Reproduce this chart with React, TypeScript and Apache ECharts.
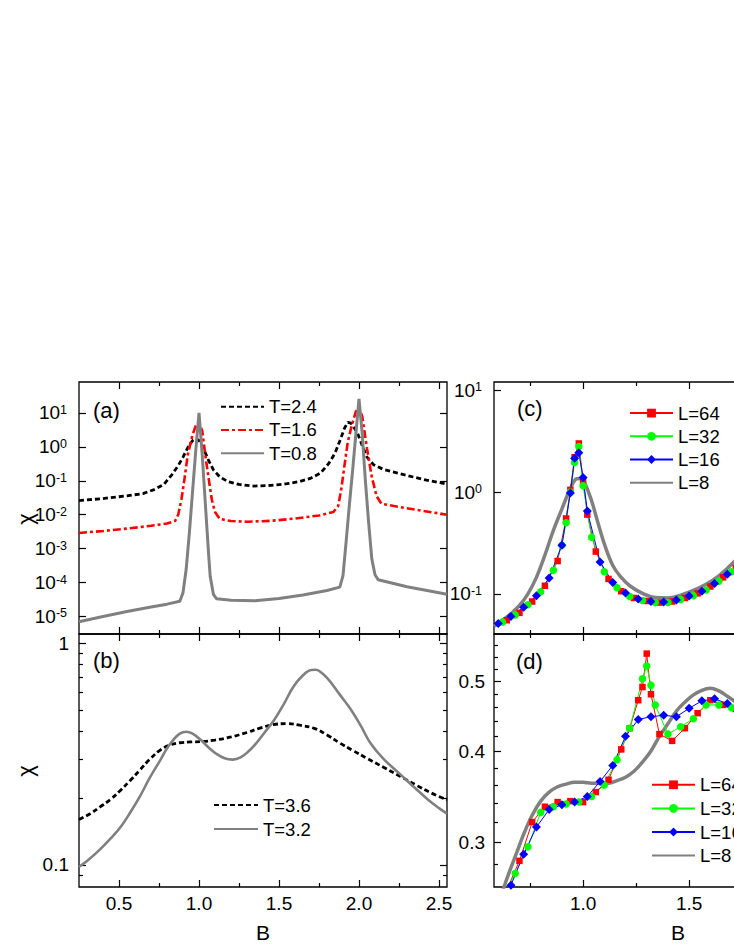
import React, { useEffect, useRef } from 'react';
import * as echarts from 'echarts';

const FONT = '"Liberation Sans", Arial, Helvetica, sans-serif';

// ---------- Panel (a): chi vs B (log), T = 2.4, 1.6, 0.8 ----------
const aT24: number[][] = [
  [0.25, 0.026], [0.4, 0.030], [0.55, 0.036], [0.65, 0.042], [0.72, 0.055], [0.78, 0.078],
  [0.83, 0.15], [0.87, 0.28], [0.9, 0.5], [0.93, 0.95], [0.96, 1.55], [0.98, 1.75], [1.0, 1.55],
  [1.03, 0.85], [1.06, 0.4], [1.09, 0.21], [1.13, 0.13], [1.18, 0.095], [1.25, 0.078], [1.34, 0.07],
  [1.45, 0.073], [1.55, 0.082], [1.63, 0.095], [1.7, 0.12], [1.76, 0.17], [1.81, 0.32], [1.85, 0.65],
  [1.88, 1.5], [1.91, 3.6], [1.93, 5.3], [1.95, 5.0], [1.97, 3.6], [1.99, 2.6], [2.02, 1.1],
  [2.05, 0.5], [2.09, 0.3], [2.15, 0.22], [2.26, 0.16], [2.4, 0.11], [2.55, 0.08]
];
const aT16: number[][] = [
  [0.25, 0.0029], [0.4, 0.0033], [0.55, 0.0039], [0.7, 0.0047], [0.8, 0.0055], [0.85, 0.0065],
  [0.87, 0.010], [0.89, 0.028], [0.91, 0.12], [0.93, 0.6], [0.96, 2.3], [0.98, 4.2], [1.0, 5.0],
  [1.02, 3.0], [1.04, 0.55], [1.06, 0.12], [1.08, 0.028], [1.1, 0.012], [1.13, 0.0075], [1.2, 0.0065],
  [1.3, 0.0062], [1.45, 0.0066], [1.6, 0.0077], [1.75, 0.0095], [1.84, 0.012], [1.87, 0.018],
  [1.89, 0.06], [1.91, 0.3], [1.93, 1.4], [1.95, 3.5], [1.98, 11], [2.0, 14], [2.02, 8], [2.05, 0.9],
  [2.08, 0.13], [2.11, 0.035], [2.14, 0.021], [2.25, 0.017], [2.4, 0.013], [2.55, 0.010]
];
const aT08: number[][] = [
  [0.25, 7.0e-6], [0.4, 1.0e-5], [0.55, 1.4e-5], [0.7, 1.9e-5], [0.8, 2.3e-5], [0.88, 2.8e-5],
  [0.9, 5e-5], [0.92, 2.5e-4], [0.94, 3e-3], [0.96, 0.05], [0.98, 0.8], [1.0, 10], [1.02, 0.6],
  [1.04, 0.02], [1.06, 7e-4], [1.07, 1.5e-4], [1.09, 4.5e-5], [1.11, 3.3e-5], [1.2, 3.0e-5],
  [1.35, 2.9e-5], [1.5, 3.4e-5], [1.65, 4.3e-5], [1.8, 5.8e-5], [1.88, 7.3e-5], [1.9, 1.6e-4],
  [1.92, 1.7e-3], [1.94, 0.02], [1.96, 0.2], [1.98, 2.3], [2.0, 26], [2.02, 2.5], [2.04, 0.1],
  [2.06, 6e-3], [2.08, 5e-4], [2.1, 1.7e-4], [2.12, 1.2e-4], [2.3, 7.5e-5], [2.55, 4.5e-5]
];

// ---------- Panel (b): T = 3.6, 3.2 ----------
const bT36: number[][] = [
  [0.25, 0.16], [0.32, 0.17], [0.38, 0.182], [0.45, 0.198], [0.51, 0.217], [0.57, 0.24],
  [0.63, 0.267], [0.69, 0.298], [0.76, 0.33], [0.82, 0.347], [0.88, 0.355], [0.95, 0.358],
  [1.01, 0.359], [1.1, 0.365], [1.2, 0.377], [1.3, 0.395], [1.38, 0.413], [1.46, 0.428],
  [1.55, 0.433], [1.63, 0.426], [1.72, 0.412], [1.8, 0.385], [1.88, 0.354], [1.96, 0.328],
  [2.05, 0.302], [2.15, 0.276], [2.26, 0.25], [2.36, 0.228], [2.45, 0.211], [2.55, 0.196]
];
const bT32: number[][] = [
  [0.25, 0.098], [0.3, 0.104], [0.38, 0.117], [0.45, 0.132], [0.51, 0.148], [0.57, 0.172],
  [0.63, 0.203], [0.69, 0.245], [0.76, 0.298], [0.8, 0.335], [0.84, 0.366], [0.88, 0.39],
  [0.92, 0.398], [0.96, 0.39], [1.01, 0.366], [1.06, 0.338], [1.11, 0.316], [1.16, 0.302],
  [1.21, 0.298], [1.26, 0.305], [1.31, 0.325], [1.36, 0.355], [1.41, 0.395], [1.47, 0.45],
  [1.53, 0.53], [1.59, 0.635], [1.65, 0.715], [1.7, 0.755], [1.73, 0.757], [1.77, 0.73],
  [1.82, 0.67], [1.88, 0.585], [1.95, 0.5], [2.01, 0.425], [2.07, 0.355], [2.15, 0.302],
  [2.26, 0.255], [2.35, 0.222], [2.43, 0.197], [2.5, 0.18], [2.55, 0.17]
];

// ---------- Panel (c): L = 64, 32, 16, 8 ----------
const cL64: number[][] = [
  [0.64, 0.055], [0.7, 0.065], [0.76, 0.084], [0.82, 0.12], [0.88, 0.21], [0.92, 0.55],
  [0.94, 1.05], [0.96, 2.2], [0.98, 3.0], [1.0, 1.3], [1.02, 0.6], [1.06, 0.26], [1.12, 0.14],
  [1.18, 0.106], [1.24, 0.091], [1.3, 0.085], [1.36, 0.082], [1.42, 0.084], [1.48, 0.091],
  [1.54, 0.101], [1.6, 0.118], [1.66, 0.145], [1.72, 0.18], [1.78, 0.24]
];
const cL32: number[][] = [
  [0.62, 0.053], [0.68, 0.062], [0.74, 0.078], [0.8, 0.105], [0.86, 0.17], [0.9, 0.3],
  [0.92, 0.5], [0.94, 1.0], [0.96, 1.95], [0.98, 2.8], [1.0, 1.15], [1.04, 0.36], [1.1, 0.165],
  [1.16, 0.115], [1.22, 0.094], [1.28, 0.086], [1.34, 0.082], [1.4, 0.082], [1.46, 0.088],
  [1.52, 0.096], [1.58, 0.109], [1.64, 0.133], [1.7, 0.165], [1.76, 0.21]
];
const cL16: number[][] = [
  [0.6, 0.051], [0.66, 0.06], [0.72, 0.074], [0.78, 0.096], [0.84, 0.143], [0.9, 0.3],
  [0.94, 0.98], [0.96, 2.15], [0.98, 2.43], [1.0, 1.39], [1.02, 0.65], [1.08, 0.206],
  [1.14, 0.129], [1.2, 0.102], [1.26, 0.089], [1.32, 0.084], [1.38, 0.083], [1.44, 0.087],
  [1.5, 0.095], [1.56, 0.106], [1.62, 0.126], [1.68, 0.156], [1.74, 0.195], [1.8, 0.26]
];
const cL8: number[][] = [
  [0.58, 0.048], [0.62, 0.055], [0.66, 0.064], [0.7, 0.077], [0.74, 0.1], [0.78, 0.145],
  [0.82, 0.24], [0.86, 0.42], [0.9, 0.68], [0.94, 1.08], [0.97, 1.35], [0.99, 1.36], [1.01, 1.2],
  [1.04, 0.82], [1.07, 0.5], [1.1, 0.31], [1.14, 0.19], [1.18, 0.145], [1.22, 0.12], [1.28, 0.101],
  [1.34, 0.092], [1.4, 0.091], [1.46, 0.097], [1.52, 0.108], [1.58, 0.124], [1.64, 0.15],
  [1.7, 0.195], [1.76, 0.27], [1.82, 0.4]
];

// ---------- Panel (d): L = 64, 32, 16, 8 ----------
const dL64: number[][] = [
  [0.58, 0.235], [0.64, 0.258], [0.7, 0.283], [0.76, 0.32], [0.82, 0.336], [0.88, 0.341],
  [0.94, 0.342], [1.0, 0.341], [1.06, 0.352], [1.12, 0.366], [1.18, 0.403], [1.22, 0.431],
  [1.26, 0.471], [1.28, 0.491], [1.3, 0.546], [1.32, 0.48], [1.36, 0.423], [1.42, 0.414],
  [1.48, 0.431], [1.54, 0.452], [1.6, 0.471], [1.66, 0.464], [1.72, 0.458]
];
const dL32: number[][] = [
  [0.62, 0.25], [0.68, 0.272], [0.74, 0.296], [0.8, 0.33], [0.86, 0.336], [0.92, 0.339],
  [0.98, 0.341], [1.04, 0.347], [1.1, 0.36], [1.16, 0.39], [1.22, 0.431], [1.28, 0.504],
  [1.3, 0.525], [1.32, 0.494], [1.34, 0.464], [1.4, 0.423], [1.46, 0.433], [1.52, 0.444],
  [1.58, 0.464], [1.64, 0.464], [1.7, 0.46], [1.76, 0.455]
];
const dL16: number[][] = [
  [0.6, 0.245], [0.66, 0.262], [0.72, 0.289], [0.78, 0.315], [0.84, 0.333], [0.9, 0.338],
  [0.96, 0.341], [1.02, 0.347], [1.08, 0.364], [1.14, 0.383], [1.2, 0.42], [1.26, 0.443],
  [1.32, 0.447], [1.38, 0.449], [1.44, 0.447], [1.5, 0.459], [1.56, 0.47], [1.62, 0.473],
  [1.68, 0.466], [1.74, 0.455]
];
const dL8: number[][] = [
  [0.6, 0.245], [0.63, 0.262], [0.66, 0.277], [0.69, 0.292], [0.72, 0.308], [0.76, 0.327],
  [0.8, 0.342], [0.84, 0.352], [0.88, 0.358], [0.92, 0.361], [0.96, 0.363], [1.0, 0.363],
  [1.04, 0.362], [1.08, 0.362], [1.12, 0.362], [1.16, 0.365], [1.2, 0.369], [1.24, 0.376],
  [1.28, 0.387], [1.32, 0.401], [1.36, 0.42], [1.4, 0.437], [1.44, 0.455], [1.48, 0.468],
  [1.52, 0.479], [1.56, 0.486], [1.6, 0.489], [1.64, 0.485], [1.68, 0.477], [1.72, 0.468],
  [1.78, 0.45]
];

// ---------- Tick values ----------
const xMajorLeft = [0.5, 1.0, 1.5, 2.0, 2.5];
const xMajorRight = [1.0, 1.5, 2.0];
const xLabelsRight = [1.0, 1.5];
const xMinor = [0.75, 1.25, 1.75, 2.25];
const yMajorA = [1e-5, 1e-4, 1e-3, 1e-2, 1e-1, 1, 10];
const yMajorB = [0.1, 1];
const yMinorB = [0.09, 0.2, 0.3, 0.4, 0.5, 0.6, 0.7, 0.8, 0.9];
const yMajorC = [0.1, 1, 10];
const yMajorD = [0.3, 0.4, 0.5];
const yMinorD = [0.28, 0.32, 0.34, 0.36, 0.38, 0.42, 0.44, 0.46, 0.48, 0.52, 0.54, 0.56];

const pow10 = (v: number) => `{b|10}{s|${Math.round(Math.log10(v))}}`;

interface Panel {
  left: number; top: number; width: number; height: number;
  xMin: number; xMax: number; xMajor: number[]; xLabels: number[] | null;
  yMin: number; yMax: number; yMajor: number[]; yMinor: number[];
  yFmt: (v: number) => string; yMargin: number;
}

const panels: Panel[] = [
  { left: 79, top: 382, width: 368, height: 252, xMin: 0.25, xMax: 2.55, xMajor: xMajorLeft, xLabels: null,
    yMin: 3.03e-6, yMax: 82, yMajor: yMajorA, yMinor: [], yFmt: pow10, yMargin: 12 },
  { left: 79, top: 634, width: 368, height: 253, xMin: 0.25, xMax: 2.55, xMajor: xMajorLeft, xLabels: xMajorLeft,
    yMin: 0.0794, yMax: 1.098, yMajor: yMajorB, yMinor: yMinorB, yFmt: (v) => (v >= 1 ? '1' : String(v)), yMargin: 10 },
  { left: 494, top: 382, width: 368, height: 252, xMin: 0.58, xMax: 2.315, xMajor: xMajorRight, xLabels: null,
    yMin: 0.0403, yMax: 12.05, yMajor: yMajorC, yMinor: [], yFmt: pow10, yMargin: 12 },
  { left: 494, top: 634, width: 368, height: 253, xMin: 0.58, xMax: 2.315, xMajor: xMajorRight, xLabels: xLabelsRight,
    yMin: 0.2605, yMax: 0.581, yMajor: yMajorD, yMinor: yMinorD, yFmt: (v) => v.toFixed(1), yMargin: 9 }
];

const tick = (len: number, values: number[]) => ({
  show: values.length > 0, inside: true, length: len, customValues: values,
  lineStyle: { color: '#000', width: 1.2 }
});

const LABEL_SIZE = 19;

function buildAxes() {
  const xAxis: any[] = [];
  const yAxis: any[] = [];
  panels.forEach((p, g) => {
    const xBase = { type: 'value', gridIndex: g, min: p.xMin, max: p.xMax, axisLine: { show: false }, splitLine: { show: false } };
    xAxis.push({
      ...xBase, position: 'bottom', axisTick: tick(7, p.xMajor),
      axisLabel: p.xLabels
        ? { show: true, customValues: p.xLabels, formatter: (v: number) => v.toFixed(1), fontSize: LABEL_SIZE, fontFamily: FONT, color: '#000', margin: 7 }
        : { show: false },
      name: p.xLabels ? 'B' : '', nameLocation: 'middle', nameGap: 35,
      nameTextStyle: { fontSize: 21, fontFamily: FONT, color: '#000' }
    });
    xAxis.push({ ...xBase, position: 'bottom', axisTick: tick(4, xMinor), axisLabel: { show: false } });
    xAxis.push({ ...xBase, position: 'top', axisTick: tick(7, p.xMajor), axisLabel: { show: false } });
    xAxis.push({ ...xBase, position: 'top', axisTick: tick(4, xMinor), axisLabel: { show: false } });

    const yBase = { type: 'log', logBase: 10, gridIndex: g, min: p.yMin, max: p.yMax, axisLine: { show: false }, splitLine: { show: false } };
    yAxis.push({
      ...yBase, position: 'left', axisTick: tick(7, p.yMajor),
      axisLabel: {
        show: true, customValues: p.yMajor, formatter: p.yFmt, fontSize: LABEL_SIZE, fontFamily: FONT, color: '#000', margin: p.yMargin,
        rich: {
          b: { fontSize: LABEL_SIZE, fontFamily: FONT, color: '#000' },
          s: { fontSize: 12.5, fontFamily: FONT, color: '#000', verticalAlign: 'top' }
        }
      }
    });
    yAxis.push({ ...yBase, position: 'left', axisTick: tick(4, p.yMinor), axisLabel: { show: false } });
    yAxis.push({ ...yBase, position: 'right', axisTick: tick(7, p.yMajor), axisLabel: { show: false } });
    yAxis.push({ ...yBase, position: 'right', axisTick: tick(4, p.yMinor), axisLabel: { show: false } });
  });
  return { xAxis, yAxis };
}

const plain = (name: string, data: number[][], g: number, color: string, width: number, type: any, smooth: number | boolean, z = 2) => ({
  type: 'line', name, data, xAxisIndex: g * 4, yAxisIndex: g * 4, symbol: 'none', showSymbol: false,
  smooth, z, silent: true, lineStyle: { color, width, type, cap: 'butt' }, itemStyle: { color }
});

const marked = (name: string, data: number[][], g: number, color: string, symbol: string, size: number) => ({
  type: 'line', name, data, xAxisIndex: g * 4, yAxisIndex: g * 4, symbol, symbolSize: size, showSymbol: true,
  z: 3, silent: true, lineStyle: { color, width: 1 }, itemStyle: { color, borderWidth: 0 }
});

const legendBase = (left: number, top: number, itemWidth: number, itemHeight: number, lh: number, data: any[]) => ({
  orient: 'vertical', left, top, itemWidth, itemHeight, itemGap: 0, padding: 0, selectedMode: false,
  data, textStyle: { fontSize: 18.5, fontFamily: FONT, color: '#000', lineHeight: lh }
});

const hide = (name: string) => ({ name, itemStyle: { opacity: 0 } });

export default function App() {
  const ref = useRef<HTMLDivElement>(null);
  useEffect(() => {
    if (!ref.current) return;
    const chart = echarts.init(ref.current, undefined, { renderer: 'svg' });
    const { xAxis, yAxis } = buildAxes();
    const RED = '#ff0000', GREEN = '#00ff00', BLUE = '#0000ff', GRAY = '#808080';
    chart.setOption({
      animation: false,
      backgroundColor: '#fff',
      grid: panels.map((p) => ({ show: true, left: p.left, top: p.top, width: p.width, height: p.height, borderColor: '#000', borderWidth: 1.3, backgroundColor: 'transparent' })),
      xAxis, yAxis,
      legend: [
        legendBase(220, 395, 43, 9, 23.3, [hide('T=2.4'), hide('T=1.6'), hide('T=0.8')]),
        legendBase(213, 793, 44, 9, 24, [hide('T=3.6'), hide('T=3.2')]),
        legendBase(629, 401.5, 43, 11, 23.2, ['L=64', 'L=32', 'L=16', hide('L=8')]),
        legendBase(651, 773, 43, 11, 23.6, ['L=64', 'L=32', 'L=16', hide('L=8')])
      ],
      series: [
        plain('T=2.4', aT24, 0, '#000', 2.8, [5, 3], false),
        plain('T=1.6', aT16, 0, RED, 2.6, [8, 3, 3, 3], false),
        plain('T=0.8', aT08, 0, GRAY, 3, 'solid', false),
        plain('T=3.6', bT36, 1, '#000', 2.8, [5, 3], 0.4),
        plain('T=3.2', bT32, 1, GRAY, 2.6, 'solid', 0.4),
        marked('L=64', cL64, 2, RED, 'rect', 6.5),
        marked('L=32', cL32, 2, GREEN, 'circle', 7.5),
        marked('L=16', cL16, 2, BLUE, 'diamond', 9),
        plain('L=8', cL8, 2, GRAY, 3.5, 'solid', 0.4, 1),
        marked('L=64', dL64, 3, RED, 'rect', 6.5),
        marked('L=32', dL32, 3, GREEN, 'circle', 7.5),
        marked('L=16', dL16, 3, BLUE, 'diamond', 9),
        plain('L=8', dL8, 3, GRAY, 3.5, 'solid', 0.4, 1)
      ],
      graphic: [
        { type: 'text', left: 93, top: 399, style: { text: '(a)', fontSize: 22, fontFamily: FONT, fill: '#000' } },
        { type: 'text', left: 93, top: 649, style: { text: '(b)', fontSize: 22, fontFamily: FONT, fill: '#000' } },
        { type: 'text', left: 517, top: 397, style: { text: '(c)', fontSize: 22, fontFamily: FONT, fill: '#000' } },
        { type: 'text', left: 516, top: 650, style: { text: '(d)', fontSize: 22, fontFamily: FONT, fill: '#000' } },
        { type: 'text', x: 25, y: 519, rotation: Math.PI / 2, style: { text: 'χ', fontSize: 22, fontFamily: FONT, fill: '#000', align: 'center', verticalAlign: 'middle' } },
        { type: 'text', x: 25, y: 771, rotation: Math.PI / 2, style: { text: 'χ', fontSize: 22, fontFamily: FONT, fill: '#000', align: 'center', verticalAlign: 'middle' } }
      ]
    });
    return () => chart.dispose();
  }, []);
  return (
    <div style={{ position: 'fixed', left: 0, top: 0, width: 734, height: 949, overflow: 'hidden', background: '#fff' }}>
      <div ref={ref} style={{ width: 880, height: 949 }} />
    </div>
  );
}
